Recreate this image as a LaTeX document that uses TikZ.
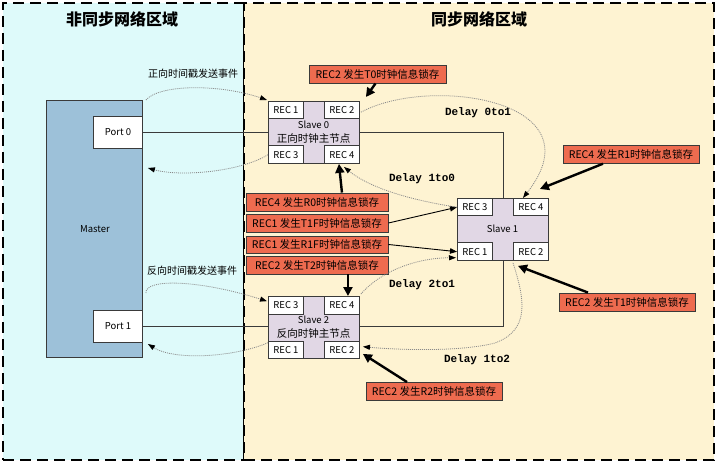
\documentclass[tikz,border=0pt]{standalone}
\usepackage{fontspec}
\setmainfont{Noto Sans CJK SC}
\newfontfamily\dlyfont{Liberation Mono}
\usetikzlibrary{arrows.meta}
\definecolor{leftbg}{HTML}{DEFAFA}
\definecolor{rightbg}{HTML}{FEF3D2}
\definecolor{masterfill}{HTML}{9DC1D9}
\definecolor{slavefill}{HTML}{E1D7E5}
\definecolor{redfill}{HTML}{EE6B4F}
\definecolor{boxline}{HTML}{3A3A3A}
\definecolor{dotgray}{HTML}{8A8A8A}
\pgfdeclarelayer{back}
\pgfdeclarelayer{mid}
\pgfsetlayers{back,mid,main}
\begin{document}
\begin{tikzpicture}[x=1pt,y=-1pt,
  region/.style={draw=black, line width=2pt, dash pattern=on 11pt off 6pt, anchor=north west, inner sep=0pt},
  title/.style={font=\fontsize{16}{18}\selectfont\bfseries},
  plain/.style={draw=boxline, line width=0.9pt, inner sep=0pt, anchor=north west},
  recbox/.style={draw=boxline, line width=0.9pt, fill=white, inner sep=0pt, minimum width=35pt, minimum height=17.5pt, font=\fontsize{9.5}{10}\selectfont},
  redbox/.style={draw=boxline, line width=0.9pt, fill=redfill, inner sep=0pt, minimum height=18pt, font=\fontsize{10.5}{11}\selectfont},
  lbl/.style={inner sep=0pt, font=\fontsize{10}{11}\selectfont},
  dly/.style={inner sep=0pt, font=\fontsize{11}{12}\selectfont\dlyfont\bfseries},
  thickarr/.style={line width=2.4pt, -{Triangle[length=9pt,width=9pt]}},
  thinarr/.style={line width=0.9pt, -{Triangle[length=7pt,width=5.5pt]}},
  dotarr/.style={draw=dotgray, line width=0.8pt, dash pattern=on 1pt off 1pt, -{Triangle[length=7pt,width=5pt,color=black]}},
  conn/.style={draw=boxline, line width=0.9pt}
]
\useasboundingbox (0,0) rectangle (717,462);
\begin{pgfonlayer}{back}
\node[region, fill=leftbg, minimum width=241pt, minimum height=457pt] (lreg) at (2,2) {};
\node[region, fill=rightbg, minimum width=470pt, minimum height=457pt] (rreg) at (243,2) {};
\end{pgfonlayer}
\node[title] (t1) at (122,19) {非同步网络区域};
\node[title] (t2) at (479,19) {同步网络区域};

% Master
\node[plain, fill=masterfill, minimum width=96pt, minimum height=257pt] (master) at (46,100) {};
\node[lbl, font=\fontsize{9.5}{10}\selectfont] (mlab) at (95,229) {Master};
\node[plain, fill=white, minimum width=49pt, minimum height=32pt, font=\fontsize{9.5}{10}\selectfont] (port0) at (93,116) {Port 0};
\node[plain, fill=white, minimum width=49pt, minimum height=32pt, font=\fontsize{9.5}{10}\selectfont] (port1) at (93,310) {Port 1};

% Slave 0
\node[plain, fill=slavefill, minimum width=91pt, minimum height=62pt] (s0) at (268,101) {};
\node[recbox, anchor=north west] (s0r1) at (s0.north west) {REC 1};
\node[recbox, anchor=north east] (s0r2) at (s0.north east) {REC 2};
\node[recbox, anchor=south west] (s0r3) at (s0.south west) {REC 3};
\node[recbox, anchor=south east] (s0r4) at (s0.south east) {REC 4};
\node[lbl, font=\fontsize{9.5}{10}\selectfont] (s0a) at (313.5,124.5) {Slave 0};
\node[lbl, font=\fontsize{10.5}{11}\selectfont] (s0b) at (313.5,139) {正向时钟主节点};

% Slave 1
\node[plain, fill=slavefill, minimum width=91pt, minimum height=62pt] (s1) at (457,198) {};
\node[recbox, anchor=north west] (s1r3) at (s1.north west) {REC 3};
\node[recbox, anchor=north east] (s1r4) at (s1.north east) {REC 4};
\node[recbox, anchor=south west] (s1r1) at (s1.south west) {REC 1};
\node[recbox, anchor=south east] (s1r2) at (s1.south east) {REC 2};
\node[lbl, font=\fontsize{9.5}{10}\selectfont] (s1a) at (502.5,229) {Slave 1};

% Slave 2
\node[plain, fill=slavefill, minimum width=91pt, minimum height=62pt] (s2) at (268,296) {};
\node[recbox, anchor=north west] (s2r3) at (s2.north west) {REC 3};
\node[recbox, anchor=north east] (s2r4) at (s2.north east) {REC 4};
\node[recbox, anchor=south west] (s2r1) at (s2.south west) {REC 1};
\node[recbox, anchor=south east] (s2r2) at (s2.south east) {REC 2};
\node[lbl, font=\fontsize{9.5}{10}\selectfont] (s2a) at (313.5,319.5) {Slave 2};
\node[lbl, font=\fontsize{10.5}{11}\selectfont] (s2b) at (313.5,334) {反向时钟主节点};

% connecting lines (behind slaves)
\begin{pgfonlayer}{mid}
\draw[conn] (port0.east) -| (s1.north);
\draw[conn] (port1.east) -| (s1.south);
\end{pgfonlayer}

% red label boxes
\node[redbox, minimum width=137pt] (rT0) at (377.5,74) {REC2 发生T0时钟信息锁存};
\node[redbox, minimum width=142pt] (rR0) at (317,202) {REC4 发生R0时钟信息锁存};
\node[redbox, minimum width=142pt] (rT1F) at (317,223) {REC1 发生T1F时钟信息锁存};
\node[redbox, minimum width=142pt, minimum height=17pt] (rR1F) at (317,244.5) {REC1 发生R1F时钟信息锁存};
\node[redbox, minimum width=142pt] (rT2) at (317,265) {REC2 发生T2时钟信息锁存};
\node[redbox, minimum width=136pt, minimum height=17.5pt] (rR1) at (631,154.5) {REC4 发生R1时钟信息锁存};
\node[redbox, minimum width=136pt] (rT1) at (627,302) {REC2 发生T1时钟信息锁存};
\node[redbox, minimum width=136pt] (rR2) at (434,391.5) {REC2 发生R2时钟信息锁存};

% thick arrows
\draw[thickarr] ([xshift=-2pt]rT0.south) -- ([xshift=6pt,yshift=4pt]s0r2.north east);
\draw[thickarr] (s0r4.south |- rR0.north) -- ([xshift=-3pt]s0r4.south);
\draw[thickarr] ([xshift=6pt]s2r4.north |- rT2.south) -- ([xshift=6pt]s2r4.north);
\draw[thickarr] ([xshift=-28pt]rR1.south) -- ([xshift=-9pt,yshift=9pt]s1r4.north east);
\draw[thickarr] ([xshift=-39pt]rT1.north) -- ([xshift=5pt,yshift=-5pt]s1r2.south west);
\draw[thickarr] ([xshift=-27pt]rR2.north) -- ([xshift=3pt,yshift=5pt]s2r2.south east);

% thin arrows
\draw[thinarr] (rT1F.east) -- (s1r3.west);
\draw[thinarr] (rR1F.east) -- (s1r1.west);

% dotted event curves
\draw[dotarr] ([xshift=3pt]master.north east) .. controls (160,84) and (220,84) .. ([xshift=-1pt,yshift=1pt]s0r1.north west);
\draw[dotarr] (s0r3.west) .. controls (240,172) and (180,177) .. ([xshift=5pt,yshift=-68pt]master.north east);
\draw[dotarr] ([xshift=3pt,yshift=-193pt]master.north east) .. controls (145,278) and (200,280) .. ([xshift=-1pt,yshift=4pt]s2r3.west);
\draw[dotarr] ([yshift=7pt]s2r1.west) .. controls (235,357) and (175,361) .. ([xshift=5pt,yshift=-244pt]master.north east);
\node[lbl] (ev1) at (193,74) {正向时间戳发送事件};
\node[lbl] (ev2) at (192,271) {反向时间戳发送事件};

% delay curves
\draw[dotarr] ([xshift=1pt,yshift=-2pt]s0r2.east) .. controls (430,75) and (600,100) .. ([xshift=-8pt]s1r4.north);
\draw[dotarr] (s1r3.west) .. controls (410,200) and (370,188) .. ([xshift=2pt,yshift=-3pt]s0r4.south);
\draw[dotarr] ([xshift=1pt,yshift=2pt]s2r4.north east) .. controls (380,272) and (415,258) .. ([xshift=-1pt,yshift=-6pt]s1r1.west);
\draw[dotarr] ([yshift=-2pt]s1r2.south west) .. controls (525,300) and (530,330) .. (495,343) .. controls (460,352) and (400,350) .. ([xshift=3pt,yshift=3pt]s2r2.east);
\node[dly] (d01) at (478,113) {Delay 0to1};
\node[dly] (d10) at (422,179) {Delay 1to0};
\node[dly] (d21) at (422,284.5) {Delay 2to1};
\node[dly] (d12) at (477,359.5) {Delay 1to2};
\end{tikzpicture}
\end{document}
